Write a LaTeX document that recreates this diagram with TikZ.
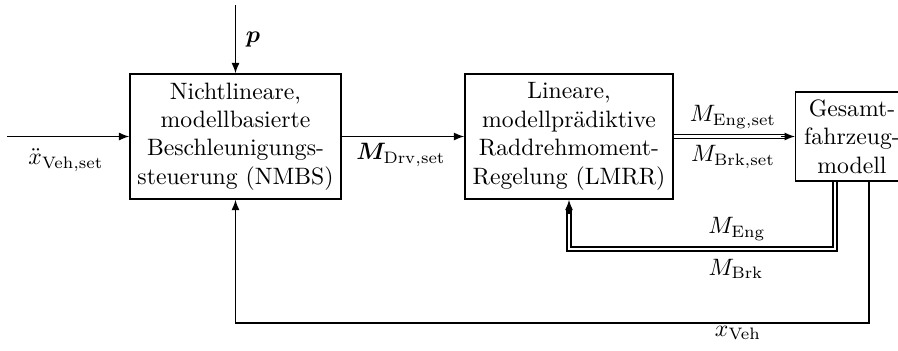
\documentclass[tikz,border=0pt]{standalone}
\usepackage{amsmath}
\usepackage{bm}
\usetikzlibrary{arrows.meta}
\begin{document}
\begin{tikzpicture}[x=0.422pt,y=-0.422pt,
  blockbox/.style={draw, line width=0.6pt, align=center, inner sep=0pt},
  arr/.style={line width=0.6pt, -{Latex[length=4.4pt,width=3.4pt]}},
  dbl/.style={line width=0.55pt, double, double distance=1.1pt},
  lbl/.style={inner sep=0pt}
]
\useasboundingbox (0,0) rectangle (898,350);
\clip (0,0) rectangle (898,350);

\node[blockbox, minimum width=89pt, minimum height=52.75pt] (b1) at (235.5,136.5)
  {Nichtlineare,\\modellbasierte\\Beschleunigungs-\\steuerung (NMBS)};
\node[blockbox, minimum width=87.8pt, minimum height=52.75pt] (b2) at (569,136.5)
  {Lineare,\\modellprädiktive\\Raddrehmoment-\\Regelung (LMRR)};
\node[blockbox, minimum width=47.5pt, minimum height=37.6pt] (b3) at (852,136.5)
  {Gesamt-\\fahrzeug-\\modell};

\coordinate (in) at (7,136.5);
\coordinate (ptop) at (235.5,5);
\coordinate (c1) at (835,249);
\coordinate (c2) at (869,323);

\draw[arr] (in) -- (b1.west);
\draw[arr] (ptop) -- (b1.north);
\draw[arr] (b1.east) -- (b2.west);

\draw[dbl, shorten >=3.5pt] (b2.east) -- (b3.west);
\draw[arr] ([xshift=-6pt]b3.west) -- (b3.west);

\draw[dbl, shorten >=3.5pt] (b3.south -| c1) -- (c1) -| (b2.south);
\draw[arr] ([yshift=-6pt]b2.south) -- (b2.south);

\draw[arr] (b3.south -| c2) -- (c2) -| (b1.south);

\node[lbl] (lx) at (66,160) {$\ddot{x}_{\mathrm{Veh,set}}$};
\node[lbl] (lp) at (253,40) {$\bm{p}$};
\node[lbl] (lmd) at (401,155) {$\bm{M}_{\mathrm{Drv,set}}$};
\node[lbl] (lme) at (733,117) {$M_{\mathrm{Eng,set}}$};
\node[lbl] (lmb) at (733,157) {$M_{\mathrm{Brk,set}}$};
\node[lbl] (le) at (737,229) {$M_{\mathrm{Eng}}$};
\node[lbl] (lb) at (736,269) {$M_{\mathrm{Brk}}$};
\node[lbl] (lv) at (738,333) {$x_{\mathrm{Veh}}$};
\end{tikzpicture}
\end{document}
